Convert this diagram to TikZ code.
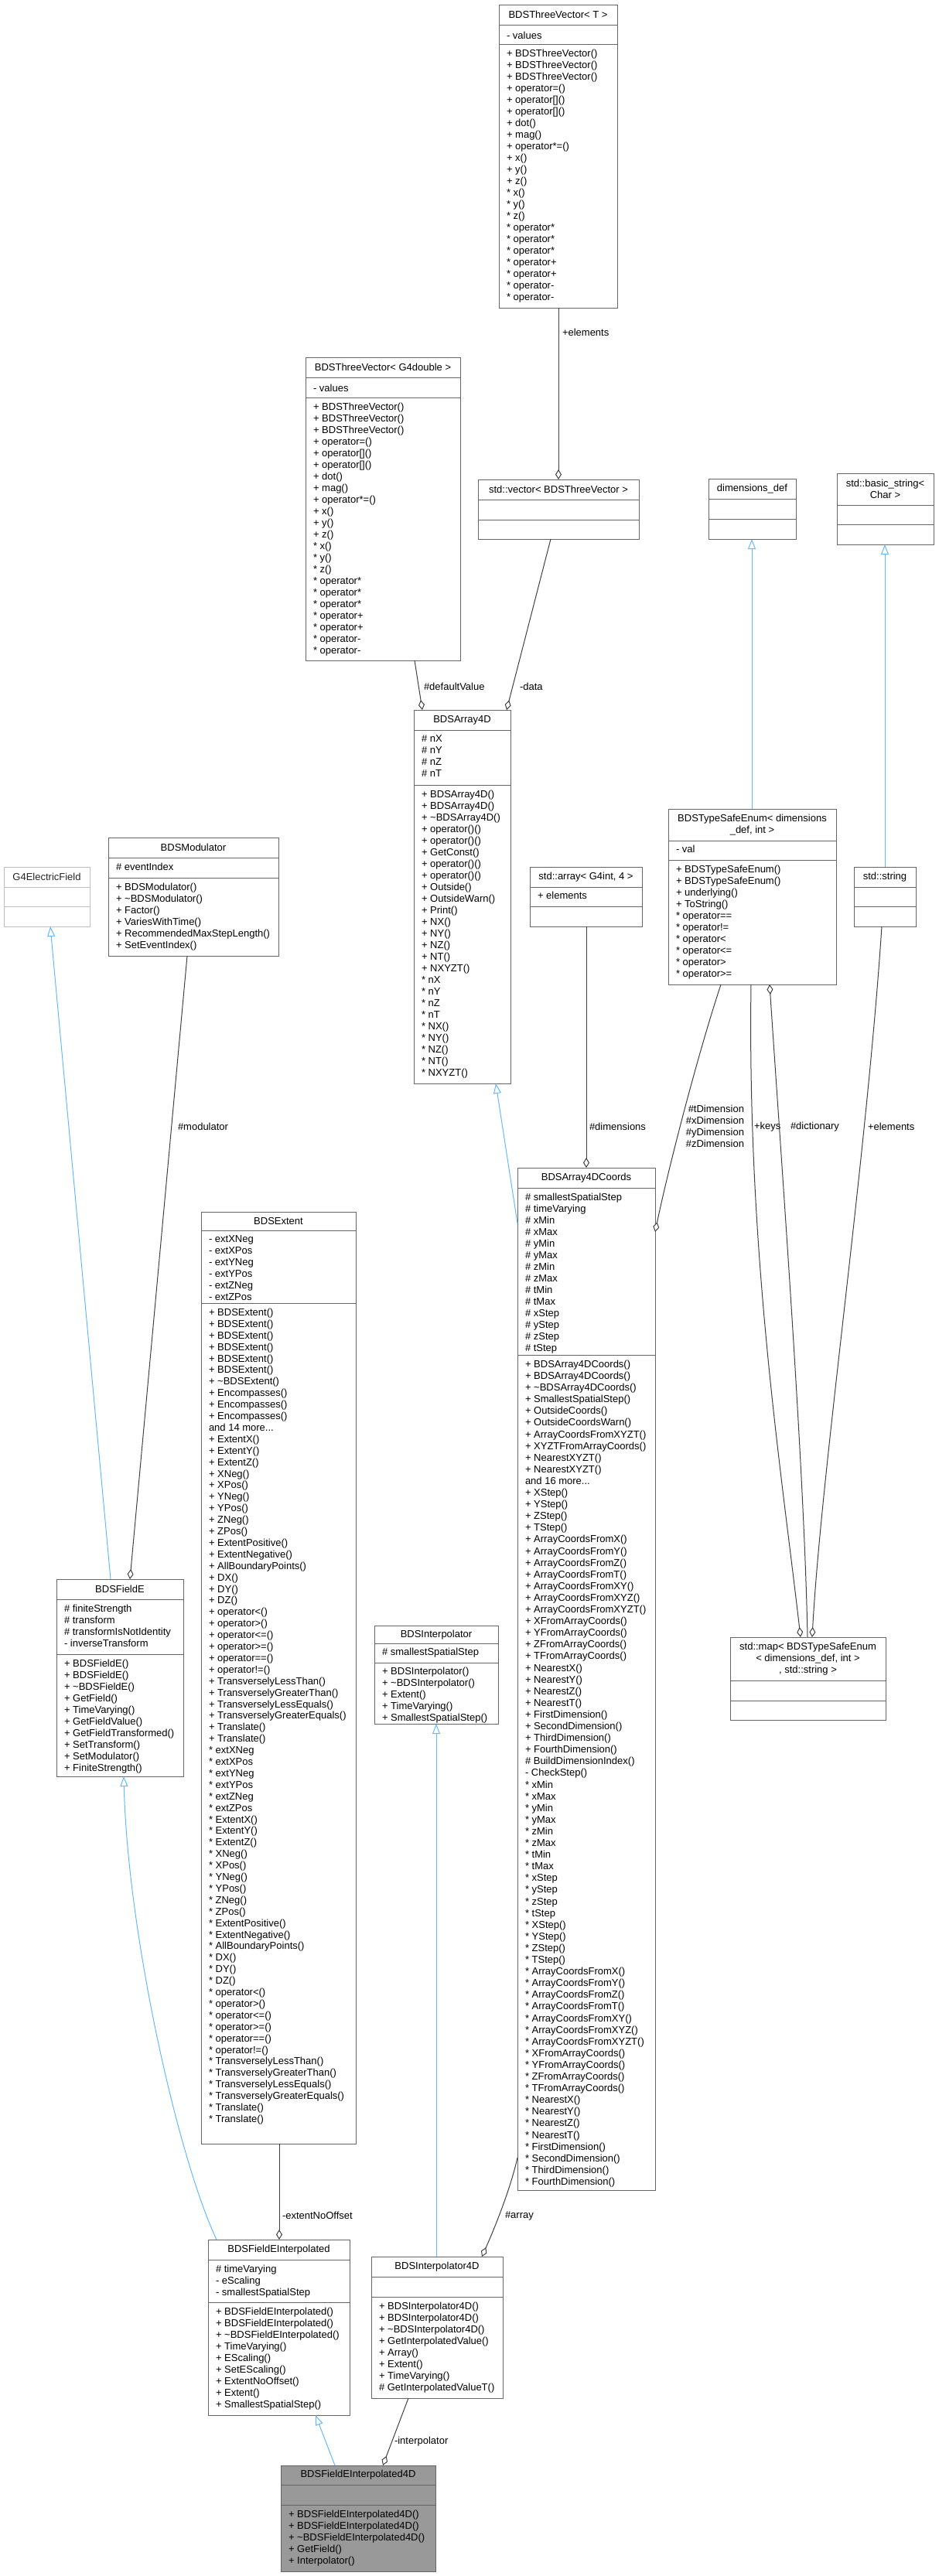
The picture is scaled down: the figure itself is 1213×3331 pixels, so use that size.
\documentclass[tikz,border=0pt]{standalone}
\usepackage{fontspec}
\setmainfont{Liberation Sans}
\usetikzlibrary{arrows.meta,calc}
\newcommand{\tld}{\textasciitilde}
\definecolor{bord}{HTML}{666666}
\definecolor{edgec}{HTML}{404040}
\definecolor{inhc}{HTML}{63B8FF}
\tikzset{
  cls/.style={draw=bord,line width=1pt,fill=white,inner sep=0,outer sep=0,anchor=north west},
  txt/.style={font=\fontsize{13}{15}\selectfont,inner sep=0,outer sep=0},
  lst/.style={txt,anchor=north west,align=left},
  agg/.style={draw=edgec,line width=1pt,-{Diamond[open,length=13pt,width=8pt,fill=white]}},
  inh/.style={draw=inhc,line width=1pt,-{Triangle[open,length=13pt,width=10pt,fill=white]}},
  lbl/.style={txt,anchor=west},
}
\newcommand{\umlbox}[8][]{%
  \node[cls,#1,minimum width={(#5-#3)*1pt},minimum height={(#6-#4)*1pt}] (#2) at (#3,#4) {};
  \draw[draw=bord,line width=1pt,#1] (#3,#7) -- (#5,#7);
  \draw[draw=bord,line width=1pt,#1] (#3,#8) -- (#5,#8);
}
\begin{document}
\begin{tikzpicture}[x=1pt,y=-1pt]
\useasboundingbox (0,0) rectangle (1213,3331);
% ---------- boxes ----------
\umlbox{TVT}{645}{6}{798}{398}{32}{57}
\node[txt] at (721.5,19) {BDSThreeVector< T >};
\node[lst] at (655,41) {- values};
\node[lst] at (655,64) {+ BDSThreeVector()\\+ BDSThreeVector()\\+ BDSThreeVector()\\+ operator=()\\+ operator[]()\\+ operator[]()\\+ dot()\\+ mag()\\+ operator*=()\\+ x()\\+ y()\\+ z()\\* x()\\* y()\\* z()\\* operator*\\* operator*\\* operator*\\* operator+\\* operator+\\* operator-\\* operator-};

\umlbox{TVG}{395}{462}{595}{854}{488}{514}
\node[txt] at (495,475) {BDSThreeVector< G4double >};
\node[lst] at (405,497) {- values};
\node[lst] at (405,521) {+ BDSThreeVector()\\+ BDSThreeVector()\\+ BDSThreeVector()\\+ operator=()\\+ operator[]()\\+ operator[]()\\+ dot()\\+ mag()\\+ operator*=()\\+ x()\\+ y()\\+ z()\\* x()\\* y()\\* z()\\* operator*\\* operator*\\* operator*\\* operator+\\* operator+\\* operator-\\* operator-};

\umlbox{VEC}{618}{620}{826}{697}{646}{672}
\node[txt] at (722,633) {std::vector< BDSThreeVector >};

\umlbox{DIM}{916}{619}{1029}{697}{645}{671}
\node[txt] at (972.5,632) {dimensions\_def};

\umlbox{BSTR}{1082}{612}{1207}{704}{653}{678}
\node[txt,align=center] at (1144.5,632.5) {std::basic\_string<\\Char >};

\umlbox[draw=black!25]{G4E}{5}{1121}{116}{1198}{1147}{1172}
\node[txt,text=black!85] at (60.5,1134) {G4ElectricField};

\umlbox{MOD}{140}{1083}{360}{1236}{1109}{1135}
\node[txt] at (250,1096) {BDSModulator};
\node[lst] at (150,1116) {\# eventIndex};
\node[lst] at (150,1142) {+ BDSModulator()\\+ \tld BDSModulator()\\+ Factor()\\+ VariesWithTime()\\+ RecommendedMaxStepLength()\\+ SetEventIndex()};

\umlbox{ARR}{535}{918}{660}{1401}{944}{1015}
\node[txt] at (597.5,931) {BDSArray4D};
\node[lst] at (545,951) {\# nX\\\# nY\\\# nZ\\\# nT};
\node[lst] at (545,1022) {+ BDSArray4D()\\+ BDSArray4D()\\+ \tld BDSArray4D()\\+ operator()()\\+ operator()()\\+ GetConst()\\+ operator()()\\+ operator()()\\+ Outside()\\+ OutsideWarn()\\+ Print()\\+ NX()\\+ NY()\\+ NZ()\\+ NT()\\+ NXYZT()\\* nX\\* nY\\* nZ\\* nT\\* NX()\\* NY()\\* NZ()\\* NT()\\* NXYZT()};

\umlbox{STDA}{685}{1121}{830}{1198}{1147}{1172}
\node[txt] at (757.5,1134) {std::array< G4int, 4 >};
\node[lst] at (695,1153) {+ elements};

\umlbox{TSE}{864}{1046}{1081}{1273}{1087}{1112}
\node[txt,align=center] at (972.5,1066.5) {BDSTypeSafeEnum< dimensions\\\_def, int >};
\node[lst] at (874,1093) {- val};
\node[lst] at (874,1119) {+ BDSTypeSafeEnum()\\+ BDSTypeSafeEnum()\\+ underlying()\\+ ToString()\\* operator==\\* operator!=\\* operator<\\* operator<=\\* operator>\\* operator>=};

\umlbox{STR}{1104}{1121}{1184}{1198}{1147}{1172}
\node[txt] at (1144,1134) {std::string};

\umlbox{A4C}{669}{1510}{847}{2832}{1536}{1752}
\node[txt] at (758,1523) {BDSArray4DCoords};
\node[lst] at (679,1543) {\# smallestSpatialStep\\\# timeVarying\\\# xMin\\\# xMax\\\# yMin\\\# yMax\\\# zMin\\\# zMax\\\# tMin\\\# tMax\\\# xStep\\\# yStep\\\# zStep\\\# tStep};
\node[lst,font=\fontsize{13}{15.1}\selectfont] at (679,1759) {+ BDSArray4DCoords()\\+ BDSArray4DCoords()\\+ \tld BDSArray4DCoords()\\+ SmallestSpatialStep()\\+ OutsideCoords()\\+ OutsideCoordsWarn()\\+ ArrayCoordsFromXYZT()\\+ XYZTFromArrayCoords()\\+ NearestXYZT()\\+ NearestXYZT()\\and 16 more...\\+ XStep()\\+ YStep()\\+ ZStep()\\+ TStep()\\+ ArrayCoordsFromX()\\+ ArrayCoordsFromY()\\+ ArrayCoordsFromZ()\\+ ArrayCoordsFromT()\\+ ArrayCoordsFromXY()\\+ ArrayCoordsFromXYZ()\\+ ArrayCoordsFromXYZT()\\+ XFromArrayCoords()\\+ YFromArrayCoords()\\+ ZFromArrayCoords()\\+ TFromArrayCoords()\\+ NearestX()\\+ NearestY()\\+ NearestZ()\\+ NearestT()\\+ FirstDimension()\\+ SecondDimension()\\+ ThirdDimension()\\+ FourthDimension()\\\# BuildDimensionIndex()\\- CheckStep()\\* xMin\\* xMax\\* yMin\\* yMax\\* zMin\\* zMax\\* tMin\\* tMax\\* xStep\\* yStep\\* zStep\\* tStep\\* XStep()\\* YStep()\\* ZStep()\\* TStep()\\* ArrayCoordsFromX()\\* ArrayCoordsFromY()\\* ArrayCoordsFromZ()\\* ArrayCoordsFromT()\\* ArrayCoordsFromXY()\\* ArrayCoordsFromXYZ()\\* ArrayCoordsFromXYZT()\\* XFromArrayCoords()\\* YFromArrayCoords()\\* ZFromArrayCoords()\\* TFromArrayCoords()\\* NearestX()\\* NearestY()\\* NearestZ()\\* NearestT()\\* FirstDimension()\\* SecondDimension()\\* ThirdDimension()\\* FourthDimension()};

\umlbox{EXT}{260}{1567}{460}{2772}{1591}{1685}
\node[txt] at (360,1579) {BDSExtent};
\node[lst] at (270,1598) {- extXNeg\\- extXPos\\- extYNeg\\- extYPos\\- extZNeg\\- extZPos};
\node[lst,font=\fontsize{13}{14.9}\selectfont] at (270,1692) {+ BDSExtent()\\+ BDSExtent()\\+ BDSExtent()\\+ BDSExtent()\\+ BDSExtent()\\+ BDSExtent()\\+ \tld BDSExtent()\\+ Encompasses()\\+ Encompasses()\\+ Encompasses()\\and 14 more...\\+ ExtentX()\\+ ExtentY()\\+ ExtentZ()\\+ XNeg()\\+ XPos()\\+ YNeg()\\+ YPos()\\+ ZNeg()\\+ ZPos()\\+ ExtentPositive()\\+ ExtentNegative()\\+ AllBoundaryPoints()\\+ DX()\\+ DY()\\+ DZ()\\+ operator<()\\+ operator>()\\+ operator<=()\\+ operator>=()\\+ operator==()\\+ operator!=()\\+ TransverselyLessThan()\\+ TransverselyGreaterThan()\\+ TransverselyLessEquals()\\+ TransverselyGreaterEquals()\\+ Translate()\\+ Translate()\\* extXNeg\\* extXPos\\* extYNeg\\* extYPos\\* extZNeg\\* extZPos\\* ExtentX()\\* ExtentY()\\* ExtentZ()\\* XNeg()\\* XPos()\\* YNeg()\\* YPos()\\* ZNeg()\\* ZPos()\\* ExtentPositive()\\* ExtentNegative()\\* AllBoundaryPoints()\\* DX()\\* DY()\\* DZ()\\* operator<()\\* operator>()\\* operator<=()\\* operator>=()\\* operator==()\\* operator!=()\\* TransverselyLessThan()\\* TransverselyGreaterThan()\\* TransverselyLessEquals()\\* TransverselyGreaterEquals()\\* Translate()\\* Translate()};

\umlbox{FE}{73}{2042}{237}{2297}{2068}{2139}
\node[txt] at (155,2055) {BDSFieldE};
\node[lst] at (83,2075) {\# finiteStrength\\\# transform\\\# transformIsNotIdentity\\- inverseTransform};
\node[lst] at (83,2146) {+ BDSFieldE()\\+ BDSFieldE()\\+ \tld BDSFieldE()\\+ GetField()\\+ TimeVarying()\\+ GetFieldValue()\\+ GetFieldTransformed()\\+ SetTransform()\\+ SetModulator()\\+ FiniteStrength()};

\umlbox{INT}{484}{2102}{644}{2229}{2125}{2150}
\node[txt] at (564,2114) {BDSInterpolator};
\node[lst] at (494,2131) {\# smallestSpatialStep};
\node[lst] at (494,2156) {+ BDSInterpolator()\\+ \tld BDSInterpolator()\\+ Extent()\\+ TimeVarying()\\+ SmallestSpatialStep()};

\umlbox{MAP}{944}{2117}{1145}{2224}{2173}{2199}
\node[txt,align=center] at (1044.5,2145) {std::map< BDSTypeSafeEnum\\< dimensions\_def, int >\\, std::string >};

\umlbox{FEI}{269}{2896}{452}{3123}{2922}{2977}
\node[txt] at (360.5,2909) {BDSFieldEInterpolated};
\node[lst] at (279,2929) {\# timeVarying\\- eScaling\\- smallestSpatialStep};
\node[lst] at (279,2984) {+ BDSFieldEInterpolated()\\+ BDSFieldEInterpolated()\\+ \tld BDSFieldEInterpolated()\\+ TimeVarying()\\+ EScaling()\\+ SetEScaling()\\+ ExtentNoOffset()\\+ Extent()\\+ SmallestSpatialStep()};

\umlbox{I4D}{480}{2918}{650}{3101}{2944}{2970}
\node[txt] at (565,2931) {BDSInterpolator4D};
\node[lst] at (490,2977) {+ BDSInterpolator4D()\\+ BDSInterpolator4D()\\+ \tld BDSInterpolator4D()\\+ GetInterpolatedValue()\\+ Array()\\+ Extent()\\+ TimeVarying()\\\# GetInterpolatedValueT()};

\umlbox[fill=black!40]{FE4}{363}{3188}{563}{3325}{3213}{3239}
\node[txt] at (463,3200.5) {BDSFieldEInterpolated4D};
\node[lst] at (373,3246) {+ BDSFieldEInterpolated4D()\\+ BDSFieldEInterpolated4D()\\+ \tld BDSFieldEInterpolated4D()\\+ GetField()\\+ Interpolator()};

% ---------- edges ----------
\draw[agg] ([xshift=77pt]TVT.south west) -- ([xshift=104pt]VEC.north west);
\node[lbl] at (727,430) {+elements};
\draw[agg] ([xshift=94pt]VEC.south west) -- ([xshift=-5pt]ARR.north east);
\node[lbl] at (672,888) {-data};
\draw[agg] ([xshift=141pt]TVG.south west) -- ([xshift=11pt]ARR.north west);
\node[lbl] at (548,888) {\#defaultValue};
\draw[inh] ([yshift=-72pt]A4C.north west) -- ([xshift=106pt]ARR.south west);
\draw[agg] ([xshift=73pt]STDA.south west) -- ([xshift=89pt]A4C.north west);
\node[lbl] at (762,1457) {\#dimensions};
\draw[agg] ([xshift=68pt]TSE.south west) .. controls (900,1370) and (862,1520) .. ([yshift=-83pt]A4C.north east);
\node[txt,anchor=east,align=right] at (962,1456) {\#tDimension\\\#xDimension\\\#yDimension\\\#zDimension};
\draw[inh] ([xshift=108pt]TSE.north west) -- ([xshift=56pt]DIM.south west);
\draw[inh] ([xshift=40pt]STR.north west) -- ([xshift=62pt]BSTR.south west);
\draw[agg] ([xshift=107pt]TSE.south west) .. controls (966,1620) and (1010,1900) .. ([xshift=91pt]MAP.north west);
\node[lbl] at (975,1457) {+keys};
\draw[agg] ([xshift=100pt]MAP.north west) .. controls (1040,1900) and (1010,1500) .. ([xshift=131pt]TSE.south west);
\node[lbl] at (1022,1457) {\#dictionary};
\draw[agg] ([xshift=36pt]STR.south west) .. controls (1120,1500) and (1062,1900) .. ([xshift=106pt]MAP.north west);
\node[lbl] at (1122,1457) {+elements};
\draw[inh] ([xshift=70pt]FE.north west) -- ([xshift=60pt]G4E.south west);
\draw[agg] ([xshift=102pt]MOD.south west) -- ([xshift=95pt]FE.north west);
\node[lbl] at (230,1457) {\#modulator};
\draw[inh] ([xshift=11pt]FEI.north west) .. controls (230,2790) and (165,2500) .. ([xshift=87pt]FE.south west);
\draw[agg] ([xshift=101pt]EXT.south west) -- ([xshift=92pt]FEI.north west);
\node[lbl] at (365,2865) {-extentNoOffset};
\draw[inh] ([xshift=84pt]I4D.north west) -- ([xshift=80pt]INT.south west);
\draw[agg] ([yshift=-1280pt]A4C.north west) .. controls (660,2830) and (640,2880) .. ([xshift=143pt]I4D.north west);
\node[lbl] at (653,2865) {\#array};
\draw[inh] ([xshift=70pt]FE4.north west) -- ([xshift=139pt]FEI.south west);
\draw[agg] ([xshift=48pt]I4D.south west) -- ([xshift=132pt]FE4.north west);
\node[lbl] at (510,3157) {-interpolator};
\end{tikzpicture}
\end{document}
